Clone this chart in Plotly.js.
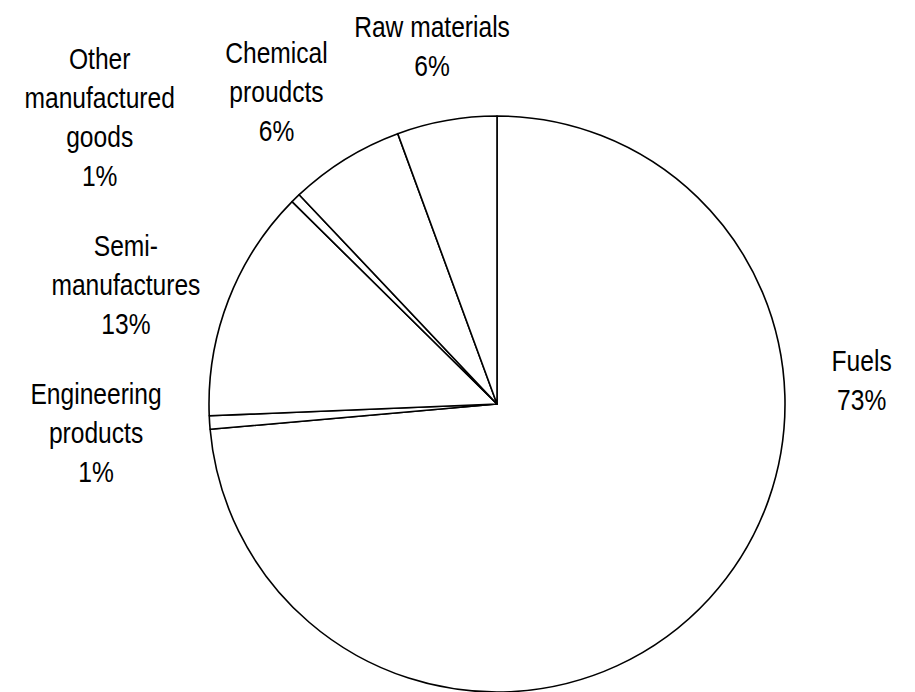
<!DOCTYPE html>
<html>
<head>
<meta charset="utf-8">
<script src="https://cdn.plot.ly/plotly-3.0.1.min.js"></script>
<style>html,body{margin:0;padding:0;background:#fff;}#chart{width:915px;height:692px;}</style>
</head>
<body>
<div id="chart"></div>
<script>
// Slice order: clockwise from 12 o'clock
var categories = ["Fuels", "Engineering<br>products", "Semi-<br>manufactures", "Other<br>manufactured<br>goods", "Chemical<br>proudcts", "Raw materials"];
var shares = [73.6, 0.75, 13.05, 0.55, 6.45, 5.6];
var pctLabels = ["73%", "1%", "13%", "1%", "6%", "6%"];
// label block centres (paper px) — layout only
var labelX = [861, 96, 126, 99, 276, 432];
var labelY = [380, 432, 285, 117, 92, 46];

var W = 915, H = 692;
var cx = 497, cy = 404, r = 288;

var trace = {
  type: 'pie',
  values: shares,
  labels: categories,
  sort: false,
  direction: 'clockwise',
  rotation: 0,
  textinfo: 'none',
  hoverinfo: 'label+percent',
  marker: { colors: categories.map(function(){return '#ffffff';}), line: { color: '#000000', width: 1.6 } },
  domain: { x: [(cx - r) / W, (cx + r) / W], y: [(H - cy - r) / H, (H - cy + r) / H] },
  showlegend: false
};

var annotations = categories.map(function(c, i) {
  return {
    text: c + '<br>' + pctLabels[i],
    x: labelX[i] / W, y: 1 - labelY[i] / H,
    xref: 'paper', yref: 'paper',
    xanchor: 'center', yanchor: 'middle',
    align: 'center',
    showarrow: false,
    font: { family: '"Liberation Sans", Arial, sans-serif', size: 30, color: '#000' }
  };
});

var layout = {
  width: W, height: H,
  margin: { l: 0, r: 0, t: 0, b: 0 },
  paper_bgcolor: '#fff', plot_bgcolor: '#fff',
  annotations: annotations
};

Plotly.newPlot('chart', [trace], layout, { displayModeBar: false, staticPlot: true }).then(function() {
  // narrow the label text horizontally (reference uses a condensed face)
  document.querySelectorAll('#chart .annotation-text-g').forEach(function(g) {
    var bb = g.getBBox();
    var mx = bb.x + bb.width / 2;
    var prev = g.getAttribute('transform') || '';
    g.setAttribute('transform', prev + ' translate(' + mx + ',0) scale(0.82,1) translate(' + (-mx) + ',0)');
  });
});
</script>
</body>
</html>
